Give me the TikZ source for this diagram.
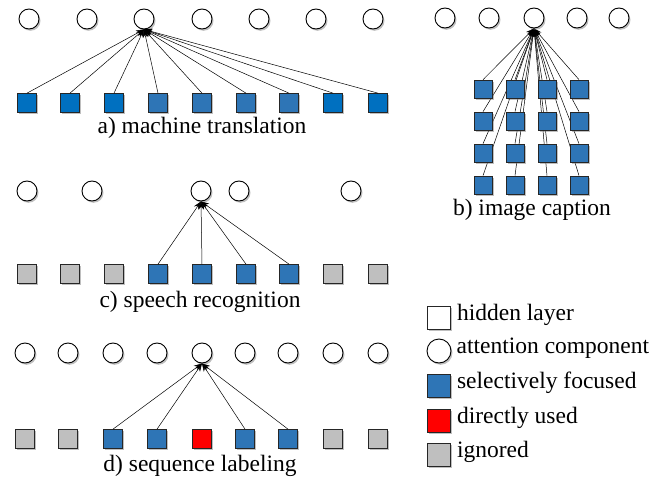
\documentclass[tikz,border=0pt]{standalone}
\usepackage{fontspec}
\setmainfont{Liberation Serif}
\usetikzlibrary{arrows.meta, shadows, positioning, backgrounds}
\definecolor{FocusBlue}{RGB}{46, 117, 182}
\definecolor{BrightBlue}{RGB}{0, 112, 192}
\definecolor{IgnoreGray}{RGB}{191, 191, 191}

\begin{document}
\begin{tikzpicture}[
    x=1pt, y=-1pt,
    shade/.style={drop shadow={shadow xshift=1.5pt, shadow yshift=-1.8pt, opacity=0.5}},
    attn/.style={circle, draw=black, fill=white, minimum size=20pt, inner sep=0pt,
                 line width=0.9pt, shade},
    cell/.style={rectangle, draw=black!85, minimum size=19pt, inner sep=0pt,
                 line width=0.7pt, shade},
    focus/.style={cell, fill=FocusBlue},
    bright/.style={cell, fill=BrightBlue},
    ignored/.style={cell, fill=IgnoreGray},
    used/.style={cell, fill=red},
    arrow/.style={-{Stealth[length=8pt, width=6pt]}, line width=0.5pt},
    caption/.style={font=\rmfamily\fontsize{23.5}{28}\selectfont, anchor=base, inner sep=0pt},
    legtext/.style={font=\rmfamily\fontsize{23.5}{28}\selectfont, inner sep=0pt,
                    text height=0.68em, text depth=0.22em}
]
\useasboundingbox (0,0) rectangle (654,479);

% a) machine translation
\foreach \x [count=\i] in {29,87,144,202,259,316,373}
    \node[attn] (mtc\i) at (\x,19) {};
\foreach \x/\s [count=\i] in {27/bright,70/bright,114/bright,158/focus,202/focus,
                              246/focus,289/focus,333/bright,378/bright}
    \node[\s] (mts\i) at (\x,103) {};
\foreach \i in {1,...,9}
    \draw[arrow] (mts\i.north) -- (mtc3.south);
\node[caption] (mtlabel) at (202,133) {a) machine translation};

% b) image caption
\foreach \x [count=\i] in {445,489,534,577,619}
    \node[attn] (icc\i) at (\x,18) {};
\foreach \y [count=\r] in {89,121,153,185}
    \foreach \x [count=\k] in {483,515,547,579}
        \node[focus, minimum size=18pt] (ics\r\k) at (\x,\y) {};
\begin{scope}[on background layer]
\foreach \r in {1,...,4}
    \foreach \k in {1,...,4}
        \draw[arrow] (ics\r\k.north) -- (icc3.south);
\end{scope}
\node[caption] (iclabel) at (532,215) {b) image caption};

% c) speech recognition
\foreach \x [count=\i] in {27,92,201,239,351}
    \node[attn] (src\i) at (\x,191) {};
\foreach \x/\s [count=\i] in {27/ignored,70/ignored,114/ignored,158/focus,202/focus,
                              246/focus,289/focus,333/ignored,378/ignored}
    \node[\s] (srs\i) at (\x,274) {};
\foreach \i in {4,...,7}
    \draw[arrow] (srs\i.north) -- (src3.south);
\node[caption] (srlabel) at (200,307) {c) speech recognition};

% d) sequence labeling
\foreach \x [count=\i] in {25,68,113,157,202,245,288,333,378}
    \node[attn] (slc\i) at (\x,353) {};
\foreach \x/\s [count=\i] in {25/ignored,68/ignored,113/focus,157/focus,202/used,
                              245/focus,288/focus,333/ignored,378/ignored}
    \node[\s] (sls\i) at (\x,439) {};
\foreach \i in {3,4,6,7}
    \draw[arrow] (sls\i.north) -- (slc5.south);
\node[caption] (sllabel) at (200,471) {d) sequence labeling};

% Legend
\node[cell, fill=white, minimum size=23pt] (leghid) at (439,318) {};
\node[attn, minimum size=24pt] (legatt) at (439,351) {};
\node[focus, minimum size=23pt] (legfoc) at (439,386) {};
\node[used, minimum size=23pt] (leguse) at (439,421) {};
\node[ignored, minimum size=23pt] (legign) at (439,455) {};

\node[legtext, right=6pt of leghid] (hidtext) {hidden layer};
\node[legtext, right=5pt of legatt] (atttext) {attention component};
\node[legtext, right=6pt of legfoc] (foctext) {selectively focused};
\node[legtext, right=6pt of leguse] (usetext) {directly used};
\node[legtext, right=6pt of legign] (igntext) {ignored};

\end{tikzpicture}
\end{document}
